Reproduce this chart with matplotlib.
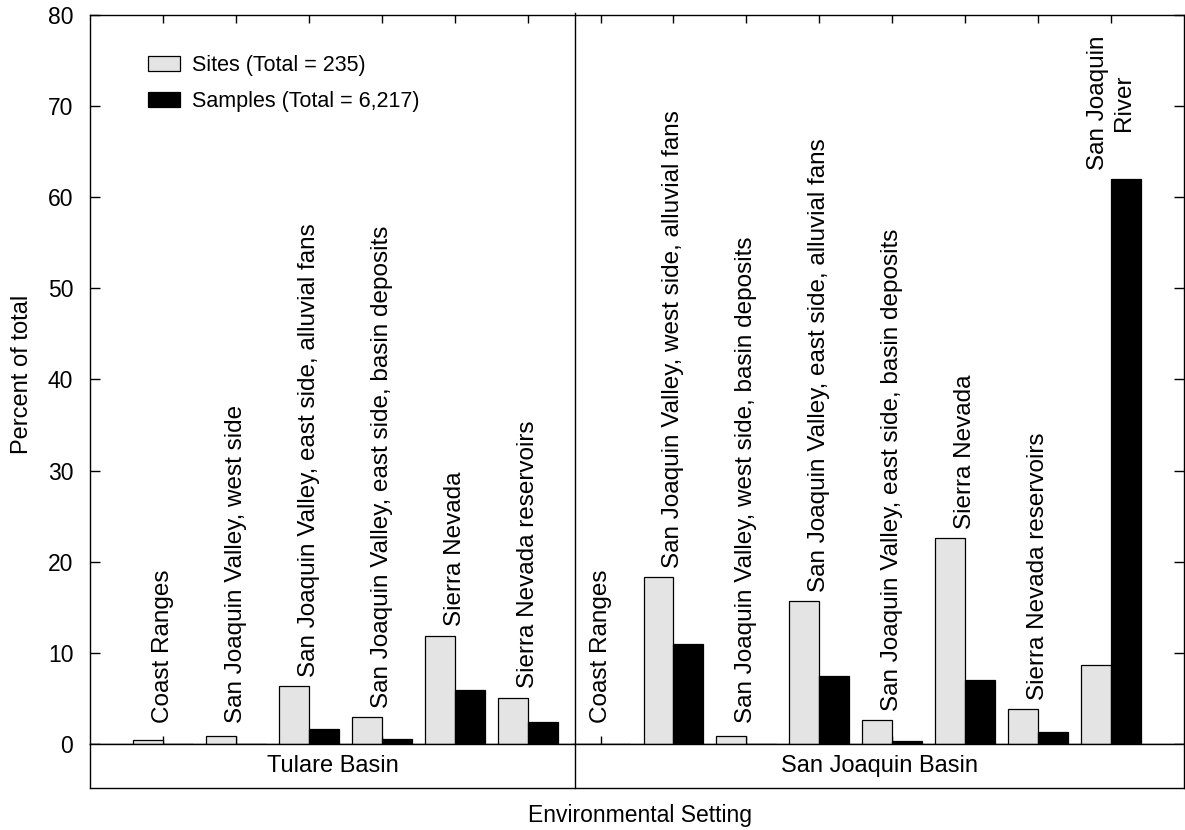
import numpy as np
import matplotlib
matplotlib.use("Agg")
import matplotlib.pyplot as plt
from matplotlib.lines import Line2D
from matplotlib.transforms import blended_transform_factory

plt.rcParams["font.family"] = ["Liberation Sans", "DejaVu Sans"]

# --- data (percent of total) ---
tulare_labels = [
    "Coast Ranges",
    "San Joaquin Valley, west side",
    "San Joaquin Valley, east side, alluvial fans",
    "San Joaquin Valley, east side, basin deposits",
    "Sierra Nevada",
    "Sierra Nevada reservoirs",
]
tulare_sites = [0.4, 0.9, 6.4, 3.0, 11.9, 5.1]
tulare_samples = [0.0, 0.0, 1.7, 0.5, 5.9, 2.4]

sj_labels = [
    "Coast Ranges",
    "San Joaquin Valley, west side, alluvial fans",
    "San Joaquin Valley, west side, basin deposits",
    "San Joaquin Valley, east side, alluvial fans",
    "San Joaquin Valley, east side, basin deposits",
    "Sierra Nevada",
    "Sierra Nevada reservoirs",
    "San Joaquin\nRiver",
]
sj_sites = [0.0, 18.3, 0.9, 15.7, 2.6, 22.6, 3.8, 8.7]
sj_samples = [0.0, 11.0, 0.0, 7.5, 0.3, 7.0, 1.3, 62.0]

basins = ["Tulare Basin", "San Joaquin Basin"]
legend_labels = ["Sites (Total = 235)", "Samples (Total = 6,217)"]

labels = tulare_labels + sj_labels
sites = np.array(tulare_sites + sj_sites)
samples = np.array(tulare_samples + sj_samples)
x = np.arange(1, len(labels) + 1)
split = 6.65  # boundary between the two basins

W, H = 1185, 830
fig = plt.figure(figsize=(W / 100, H / 100), dpi=100)
left, right = 90 / W, 1184 / W
ax = fig.add_axes([left, 1 - 744 / H, right - left, (744 - 15) / H])
ax_band = fig.add_axes([left, 1 - 788 / H, right - left, 44 / H])

bw = 0.41
b1 = ax.bar(x - bw / 2, sites, bw, color="#e4e4e4", edgecolor="black", linewidth=0.9, zorder=3)
b2 = ax.bar(x + bw / 2, samples, bw, color="black", edgecolor="black", linewidth=0.9, zorder=3)

# category labels above each pair
for xi, lab, s, m in zip(x, labels, sites, samples):
    y = max(max(s, m) + 1.0, 2.3)
    ax.text(xi, y, lab, rotation=90, ha="center", va="bottom",
            multialignment="center", fontsize=17.5)

ax.set_xlim(0, 15)
ax.set_ylim(0, 80)
ax.set_yticks(np.arange(0, 81, 10))
ax.set_xticks(x)
ax.set_xticklabels([])
ax.tick_params(axis="y", direction="in", length=7, width=1, right=True, labelsize=16.5, pad=12)
ax.tick_params(axis="x", direction="in", length=5.5, width=1, top=True)
for sp in ax.spines.values():
    sp.set_linewidth(1.0)

ax.legend([b1, b2], legend_labels, loc="upper left", bbox_to_anchor=(0.053, 0.945),
          frameon=False, fontsize=15.5, borderpad=0, borderaxespad=0,
          handlelength=1.49, handleheight=0.7, handletextpad=0.56, labelspacing=0.68)

# basin band below the axis
ax_band.set_xlim(0, 15)
ax_band.set_ylim(0, 1)
ax_band.set_xticks([])
ax_band.set_yticks([])
for sp in ax_band.spines.values():
    sp.set_linewidth(1.0)
ax_band.text(split / 2, 0.5, basins[0], ha="center", va="center", fontsize=17)
ax_band.text((split + 15) / 2, 0.5, basins[1], ha="center", va="center", fontsize=17)

trans = blended_transform_factory(ax.transData, fig.transFigure)
fig.add_artist(Line2D([split, split], [1 - 788 / H, 1 - 13 / H], transform=trans,
                      color="black", linewidth=1.0))

fig.text(22 / W, 1 - 374 / H, "Percent of total", rotation=90, ha="center", va="center", fontsize=17)
fig.text(640 / W, 1 - 815 / H, "Environmental Setting", ha="center", va="center", fontsize=16.5)

fig.savefig("out.png", dpi=100)
